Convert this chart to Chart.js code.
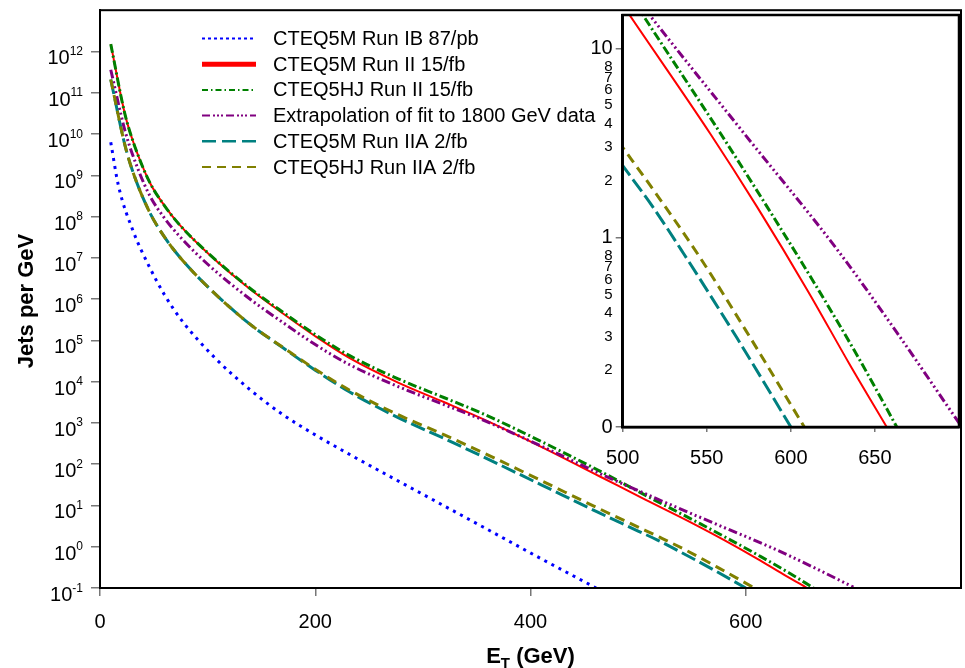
<!DOCTYPE html>
<html>
<head>
<meta charset="utf-8">
<script src="https://cdn.jsdelivr.net/npm/chart.js@4.4.1/dist/chart.umd.min.js"></script>
<style>
  html, body { margin: 0; padding: 0; background: #fff; }
  #wrap { position: relative; width: 965px; height: 668px; }
  #main { position: absolute; left: 0; top: 0; }
  #inset { position: absolute; left: 560px; top: 0; }
</style>
</head>
<body>
<div id="wrap">
  <canvas id="main" width="965" height="668" style="width:965px;height:668px"></canvas>
  <canvas id="inset" width="405" height="480" style="width:405px;height:480px"></canvas>
</div>
<script>
const F = "'Liberation Sans', Arial, sans-serif";

// series names (legend order)
const names = [
  'CTEQ5M Run IB 87/pb',
  'CTEQ5M Run II 15/fb',
  'CTEQ5HJ Run II 15/fb',
  'Extrapolation of fit to 1800 GeV data',
  'CTEQ5M Run IIA 2/fb',
  'CTEQ5HJ Run IIA 2/fb'
];

// E_T (GeV) and jets per GeV
const etRunIB = [10, 17, 31, 46, 60, 77, 108, 140, 170, 200, 229, 300, 356, 410, 461];
const jRunIB  = [6.3e9, 5.8e8, 4.3e7, 5.96e6, 1.26e6, 2.8e5, 3.5e4, 6.2e3, 1.58e3, 513, 190, 18.6, 3.0, 0.51, 0.1];

const etRunII = [10, 23, 31, 46, 60, 74, 102, 139, 170, 200, 232, 277, 320, 356, 410, 464, 503, 552, 580, 610, 635, 657];
const jRunII  = [1.51e12, 3.16e10, 6.3e9, 6.9e8, 1.82e8, 6.3e7, 1.17e7, 1.78e6, 4.47e5, 1.26e5, 3.7e4, 9.5e3, 3.16e3, 1.23e3, 263, 51, 15.5, 3.55, 1.45, 0.525, 0.214, 0.1];

const etHJ = [10, 23, 31, 46, 60, 74, 102, 139, 170, 200, 232, 277, 320, 356, 410, 464, 512, 558, 586, 614, 640, 663];
const jHJ  = [1.51e12, 3.16e10, 6.3e9, 6.9e8, 1.82e8, 6.3e7, 1.2e7, 1.86e6, 4.8e5, 1.38e5, 4.26e4, 1.17e4, 4.07e3, 1.66e3, 355, 69, 15, 3.57, 1.45, 0.575, 0.234, 0.1];

const etFit = [10, 23, 31, 46, 60, 74, 102, 139, 170, 200, 232, 277, 320, 356, 410, 464, 516, 572, 628, 663, 700];
const jFit  = [3.6e11, 1.26e10, 2.8e9, 3.3e8, 9.1e7, 3.3e7, 6.3e6, 1.02e6, 2.7e5, 7.9e4, 2.57e4, 7.6e3, 2.75e3, 1.17e3, 275, 60, 15, 3.57, 0.855, 0.316, 0.105];

const etIIA = [10, 23, 31, 46, 60, 74, 102, 139, 170, 200, 232, 277, 320, 356, 410, 464, 500, 518, 536, 568, 600];
const jIIA  = [2.1e11, 5.6e9, 1.12e9, 1.29e8, 3.16e7, 1.05e7, 1.78e6, 2.5e5, 6.6e4, 1.9e4, 5.6e3, 1.35e3, 417, 151, 31.6, 6.6, 2.4, 1.45, 0.83, 0.295, 0.1];

const etHJA = [10, 23, 31, 46, 60, 74, 102, 139, 170, 200, 232, 277, 320, 356, 410, 464, 500, 520, 545, 576, 608];
const jHJA  = [2.1e11, 5.6e9, 1.12e9, 1.29e8, 3.16e7, 1.05e7, 1.78e6, 2.5e5, 6.8e4, 2.0e4, 6.2e3, 1.58e3, 513, 190, 40, 8.3, 3.0, 1.7, 0.81, 0.295, 0.1];

// ticks
const mainXTicks = [0, 200, 400, 600];
const mainYTicks = [1e-1, 1, 1e1, 1e2, 1e3, 1e4, 1e5, 1e6, 1e7, 1e8, 1e9, 1e10, 1e11, 1e12];
const insetXTicks = [500, 550, 600, 650];
const insetYTicks = [0.1, 0.2, 0.3, 0.4, 0.5, 0.6, 0.7, 0.8, 1, 2, 3, 4, 5, 6, 7, 8, 10];
const insetYLabels = ['0', '2', '3', '4', '5', '6', '7', '8', '1', '2', '3', '4', '5', '6', '7', '8', '10'];
const insetMajor = [0.1, 1, 10];

const seriesX = [etRunIB, etRunII, etHJ, etFit, etIIA, etHJA];
const seriesY = [jRunIB, jRunII, jHJ, jFit, jIIA, jHJA];

const styles = [
  {color: '#0000ff', width: 3, dash: [3, 5], lw: 2, ldash: [3, 3]},
  {color: '#ff0000', width: 2, dash: [], lw: 5, ldash: []},
  {color: '#008000', width: 3, dash: [9, 3, 2, 3], lw: 2, ldash: [6, 3, 1.5, 3]},
  {color: '#800080', width: 3, dash: [9, 3, 2, 3, 2, 3, 2, 3], lw: 2, ldash: [8, 3, 2, 2, 2, 2, 2, 3]},
  {color: '#008080', width: 3, dash: [15, 5], lw: 2.5, ldash: [14, 6]},
  {color: '#808000', width: 3, dash: [10, 6], lw: 2, ldash: [9, 6]}
];

function makeDatasets() {
  return names.map((n, i) => ({
    label: n,
    data: seriesX[i].map((x, k) => ({x: x, y: seriesY[i][k]})),
    borderColor: styles[i].color,
    borderWidth: styles[i].width,
    borderDash: styles[i].dash,
    borderCapStyle: 'butt',
    pointRadius: 0,
    fill: false,
    cubicInterpolationMode: 'monotone',
    order: names.length - 1 - i
  }));
}

const frame = {
  id: 'frame',
  afterDraw(chart, args, opts) {
    const a = chart.chartArea, ctx = chart.ctx;
    ctx.save();
    ctx.strokeStyle = '#000';
    ctx.lineWidth = opts.width || 2;
    ctx.strokeRect(a.left, a.top, a.right - a.left, a.bottom - a.top);
    ctx.restore();
  }
};

const mainDecor = {
  id: 'mainDecor',
  afterDraw(chart) {
    const ctx = chart.ctx, y = chart.scales.y, a = chart.chartArea;
    ctx.save();
    ctx.fillStyle = '#000';
    // y tick labels 10^n
    mainYTicks.forEach(v => {
      const py = y.getPixelForValue(v);
      const ex = String(Math.round(Math.log10(v)));
      ctx.font = '12px ' + F;
      const ew = ctx.measureText(ex).width;
      ctx.textAlign = 'left';
      ctx.textBaseline = 'alphabetic';
      ctx.fillText(ex, 83 - ew, py + 3.5);
      ctx.font = '20px ' + F;
      ctx.textAlign = 'right';
      ctx.fillText('10', 83 - ew, py + 13);
    });
    // y title
    ctx.save();
    ctx.translate(27, 301);
    ctx.rotate(-Math.PI / 2);
    ctx.font = 'bold 22px ' + F;
    ctx.textAlign = 'center';
    ctx.textBaseline = 'middle';
    ctx.fillText('Jets per GeV', 0, 0);
    ctx.restore();
    // x title E_T (GeV)
    ctx.textBaseline = 'alphabetic';
    ctx.textAlign = 'left';
    ctx.font = 'bold 22px ' + F;
    const wE = ctx.measureText('E').width;
    const wR = ctx.measureText(' (GeV)').width;
    ctx.font = 'bold 15px ' + F;
    const wT = ctx.measureText('T').width;
    const x0 = (a.left + a.right) / 2 - (wE + wT + wR) / 2;
    const base = 662.5;
    ctx.font = 'bold 22px ' + F;
    ctx.fillText('E', x0, base);
    ctx.font = 'bold 15px ' + F;
    ctx.fillText('T', x0 + wE, base + 5);
    ctx.font = 'bold 22px ' + F;
    ctx.fillText(' (GeV)', x0 + wE + wT, base);
    // legend
    const lx1 = 202, lx2 = 256, tx = 273, ly0 = 38.5, step = 25.7;
    names.forEach((n, i) => {
      const ly = ly0 + i * step;
      ctx.save();
      ctx.strokeStyle = styles[i].color;
      ctx.lineWidth = styles[i].lw;
      ctx.setLineDash(styles[i].ldash);
      ctx.beginPath();
      ctx.moveTo(lx1, ly);
      ctx.lineTo(lx2, ly);
      ctx.stroke();
      ctx.restore();
      ctx.font = '20px ' + F;
      ctx.textBaseline = 'middle';
      ctx.fillStyle = '#000';
      ctx.fillText(n, tx, ly + 1);
    });
    ctx.restore();
  }
};

const whiteArea = {
  id: 'whiteArea',
  beforeDraw(chart) {
    const a = chart.chartArea, ctx = chart.ctx;
    ctx.save();
    ctx.fillStyle = '#fff';
    ctx.fillRect(a.left, a.top, a.right - a.left, a.bottom - a.top);
    ctx.restore();
  }
};

new Chart(document.getElementById('main').getContext('2d'), {
  type: 'line',
  data: {datasets: makeDatasets()},
  plugins: [frame, mainDecor],
  options: {
    responsive: false,
    animation: false,
    devicePixelRatio: 1,
    layout: {padding: {left: 0, right: 4, top: 7, bottom: 0}},
    plugins: {legend: {display: false}, tooltip: {enabled: false}, frame: {width: 2}},
    scales: {
      x: {
        type: 'linear', min: 0, max: 800,
        afterBuildTicks: s => { s.ticks = mainXTicks.map(v => ({value: v})); },
        afterFit: s => { s.height = 80; },
        border: {color: '#000', width: 2},
        grid: {drawOnChartArea: false, drawTicks: true, tickLength: 8, color: '#777', lineWidth: 1.5},
        ticks: {font: {family: F, size: 20}, color: '#000', padding: 14, maxRotation: 0, autoSkip: false}
      },
      y: {
        type: 'logarithmic', min: 0.1, max: 1e13,
        afterBuildTicks: s => { s.ticks = mainYTicks.map(v => ({value: v})); },
        afterFit: s => { s.width = 100; },
        border: {color: '#000', width: 2},
        grid: {drawOnChartArea: false, drawTicks: true, tickLength: 9, color: '#777', lineWidth: 1.5},
        ticks: {callback: () => '', autoSkip: false}
      }
    }
  }
});

new Chart(document.getElementById('inset').getContext('2d'), {
  type: 'line',
  data: {datasets: makeDatasets()},
  plugins: [whiteArea, frame],
  options: {
    responsive: false,
    animation: false,
    devicePixelRatio: 1,
    layout: {padding: {left: 0, right: 6, top: 10, bottom: 0}},
    plugins: {legend: {display: false}, tooltip: {enabled: false}, frame: {width: 2.5}},
    scales: {
      x: {
        type: 'linear', min: 500, max: 700,
        afterBuildTicks: s => { s.ticks = insetXTicks.map(v => ({value: v})); },
        afterFit: s => { s.height = 53; },
        border: {color: '#000', width: 2.5},
        grid: {drawOnChartArea: false, drawTicks: true, tickLength: 5, color: '#777', lineWidth: 1.5},
        ticks: {font: {family: F, size: 20}, color: '#000', padding: 14, maxRotation: 0, autoSkip: false}
      },
      y: {
        type: 'logarithmic', min: 0.1, max: 15,
        afterBuildTicks: s => { s.ticks = insetYTicks.map(v => ({value: v})); },
        afterFit: s => { s.width = 62.7; },
        border: {color: '#000', width: 2.5},
        grid: {
          drawOnChartArea: false, drawTicks: true, tickLength: 7, lineWidth: 1.5,
          color: c => (c.tick && insetMajor.includes(c.tick.value)) ? '#777' : 'rgba(0,0,0,0)'
        },
        ticks: {
          autoSkip: false,
          padding: 3,
          color: '#000',
          callback: (v, i) => insetYLabels[i],
          font: c => ({family: F, size: (c.tick && insetMajor.includes(c.tick.value)) ? 20 : 15})
        }
      }
    }
  }
});
</script>
</body>
</html>
